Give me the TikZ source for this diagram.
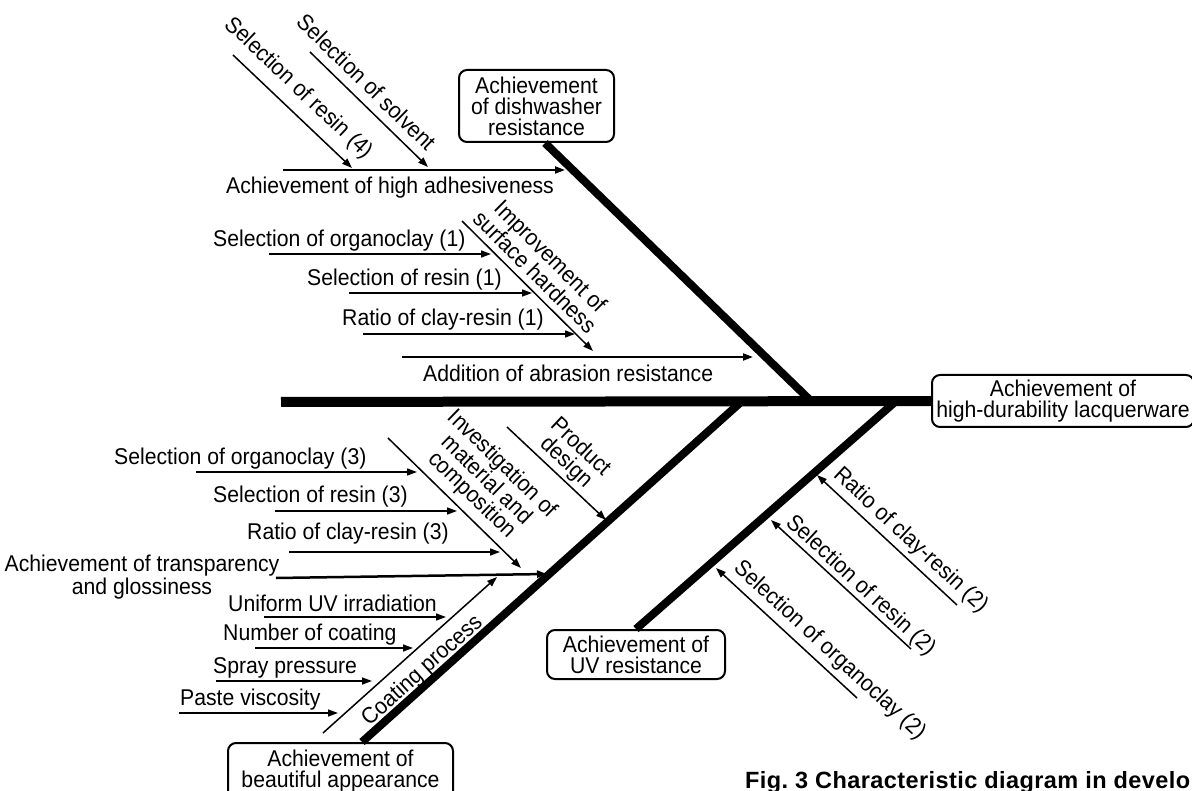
\documentclass[tikz,border=0pt]{standalone}
\usepackage{fontspec}
\setmainfont{Liberation Sans}[FakeStretch=0.93]
\newfontfamily\capfam{Liberation Sans}[LetterSpace=1.8]
\usetikzlibrary{arrows.meta}
\newcommand\lab{\fontsize{22.8}{21}\selectfont}
\newcommand\capfont{\capfam\fontsize{23.5}{24}\selectfont\bfseries}
\begin{document}
\begin{tikzpicture}[x=1pt,y=-1pt,
  every node/.style={font=\lab, inner sep=0pt},
  lbl/.style={text height=16.4pt, text depth=0pt},
  arr/.style={line width=1.5pt, -{Triangle[length=10pt,width=7pt]}},
  arrm/.style={arr, line width=2.1pt},
  bone/.style={line width=8pt},
  box/.style={draw, line width=2pt, rounded corners=8pt, align=center, inner sep=4pt}]
\useasboundingbox (0,0) rectangle (1192,791);

% ---- head and spine
\node[box, minimum width=262pt, minimum height=52pt] (head) at (1063,401) {Achievement of\\high-durability lacquerware};
\coordinate (s0) at (281,402);
\draw[line width=10pt] (s0) -- (head.west);

% ---- bones
\node[box, minimum width=155pt, minimum height=72pt] (dish) at (536.5,106) {Achievement\\of dishwasher\\resistance};
\coordinate (dj) at (812,402);
\draw[bone] ([xshift=8.5pt]dish.south) -- (dj);

\node[box, minimum width=225pt, minimum height=56pt] (beaut) at (340.5,771) {Achievement of\\beautiful appearance};
\coordinate (bj) at (741,402);
\draw[bone] ([xshift=21.5pt]beaut.north) -- (bj);

\node[box, minimum width=178pt, minimum height=49pt] (uv) at (636,654.5) {Achievement of\\UV resistance};
\coordinate (uj) at (895,402);
\draw[bone] (uv.north) -- (uj);

% ---- upper causes
\coordinate (a1s) at (283,170); \coordinate (a1e) at (565,170);
\draw[arrm] (a1s) -- (a1e);
\node[lbl, anchor=west] (a1t) at (226,185) {Achievement of high adhesiveness};

\coordinate (a2s) at (233,55); \coordinate (a2e) at (352,168);
\draw[arr] (a2s) -- (a2e);
\node[lbl, rotate=-43.5] (a2t) at (300,87) {Selection of resin (4)};

\coordinate (a3s) at (310,52); \coordinate (a3e) at (428,167);
\draw[arr] (a3s) -- (a3e);
\node[lbl, rotate=-44.3] (a3t) at (367,82) {Selection of solvent};

\coordinate (a4s) at (462,221); \coordinate (a4e) at (593,351);
\draw[arr] (a4s) -- (a4e);
\node[align=center, rotate=-44.8] (a4t) at (543,264) {Improvement of\\surface hardness};

\coordinate (a5s) at (269,254); \coordinate (a5e) at (491,254);
\draw[arr] (a5s) -- (a5e);
\node[lbl, anchor=west] (a5t) at (213,238) {Selection of organoclay (1)};

\coordinate (a6s) at (349,293); \coordinate (a6e) at (532,293);
\draw[arr] (a6s) -- (a6e);
\node[lbl, anchor=west] (a6t) at (307,277) {Selection of resin (1)};

\coordinate (a7s) at (363,334); \coordinate (a7e) at (575,334);
\draw[arr] (a7s) -- (a7e);
\node[lbl, anchor=west] (a7t) at (342,317) {Ratio of clay-resin (1)};

\coordinate (a8s) at (402,357); \coordinate (a8e) at (753,357);
\draw[arrm] (a8s) -- (a8e);
\node[lbl, anchor=west] (a8t) at (423,373) {Addition of abrasion resistance};

% ---- lower-left causes
\coordinate (b1s) at (196,472); \coordinate (b1e) at (417,472);
\draw[arr] (b1s) -- (b1e);
\node[lbl, anchor=west] (b1t) at (114,456) {Selection of organoclay (3)};

\coordinate (b2s) at (275,511); \coordinate (b2e) at (457,511);
\draw[arr] (b2s) -- (b2e);
\node[lbl, anchor=west] (b2t) at (213,494) {Selection of resin (3)};

\coordinate (b3s) at (289,552); \coordinate (b3e) at (500,552);
\draw[arr] (b3s) -- (b3e);
\node[lbl, anchor=west] (b3t) at (247,531) {Ratio of clay-resin (3)};

\coordinate (b4s) at (388,438); \coordinate (b4e) at (521,568);
\draw[arr] (b4s) -- (b4e);
\node[align=center, rotate=-44.3] (b4t) at (487,480) {Investigation of\\material and\\composition};

\coordinate (b5s) at (507,427); \coordinate (b5e) at (606,520);
\draw[arr] (b5s) -- (b5e);
\node[align=center, rotate=-43.2] (b5t) at (573,455) {Product\\design};

\coordinate (b6s) at (276,578); \coordinate (b6e) at (547,574);
\draw[arr, line width=2.5pt] (b6s) -- (b6e);
\node[align=center] (b6t) at (142,577) {Achievement of transparency\\and glossiness};

\coordinate (b7s) at (323,733); \coordinate (b7e) at (497,577);
\draw[arr] (b7s) -- (b7e);
\node[lbl, rotate=41.9] (b7t) at (421,669) {Coating process};

\coordinate (b8s) at (264,617); \coordinate (b8e) at (446,617);
\draw[arr] (b8s) -- (b8e);
\node[lbl, anchor=west] (b8t) at (228,603) {Uniform UV irradiation};

\coordinate (b9s) at (255,648); \coordinate (b9e) at (413,648);
\draw[arr] (b9s) -- (b9e);
\node[lbl, anchor=west] (b9t) at (223,632) {Number of coating};

\coordinate (b10s) at (216,681); \coordinate (b10e) at (372,681);
\draw[arr] (b10s) -- (b10e);
\node[lbl, anchor=west] (b10t) at (213,665) {Spray pressure};

\coordinate (b11s) at (179,713); \coordinate (b11e) at (338,713);
\draw[arr] (b11s) -- (b11e);
\node[lbl, anchor=west] (b11t) at (180,697) {Paste viscosity};

% ---- UV causes
\coordinate (c1s) at (957,605); \coordinate (c1e) at (817,475);
\draw[arr] (c1s) -- (c1e);
\node[lbl, rotate=-42.9] (c1t) at (912,539) {Ratio of clay-resin (2)};

\coordinate (c2s) at (911,649); \coordinate (c2e) at (771,520);
\draw[arr] (c2s) -- (c2e);
\node[lbl, rotate=-42.7] (c2t) at (862,584) {Selection of resin (2)};

\coordinate (c3s) at (857,698); \coordinate (c3e) at (716,568);
\draw[arr] (c3s) -- (c3e);
\node[lbl, rotate=-42.7] (c3t) at (831,649) {Selection of organoclay (2)};

% ---- caption
\node[anchor=base west, font=\capfont] (cap) at (745,788) {Fig.~3 Characteristic diagram in develo};
\end{tikzpicture}
\end{document}
